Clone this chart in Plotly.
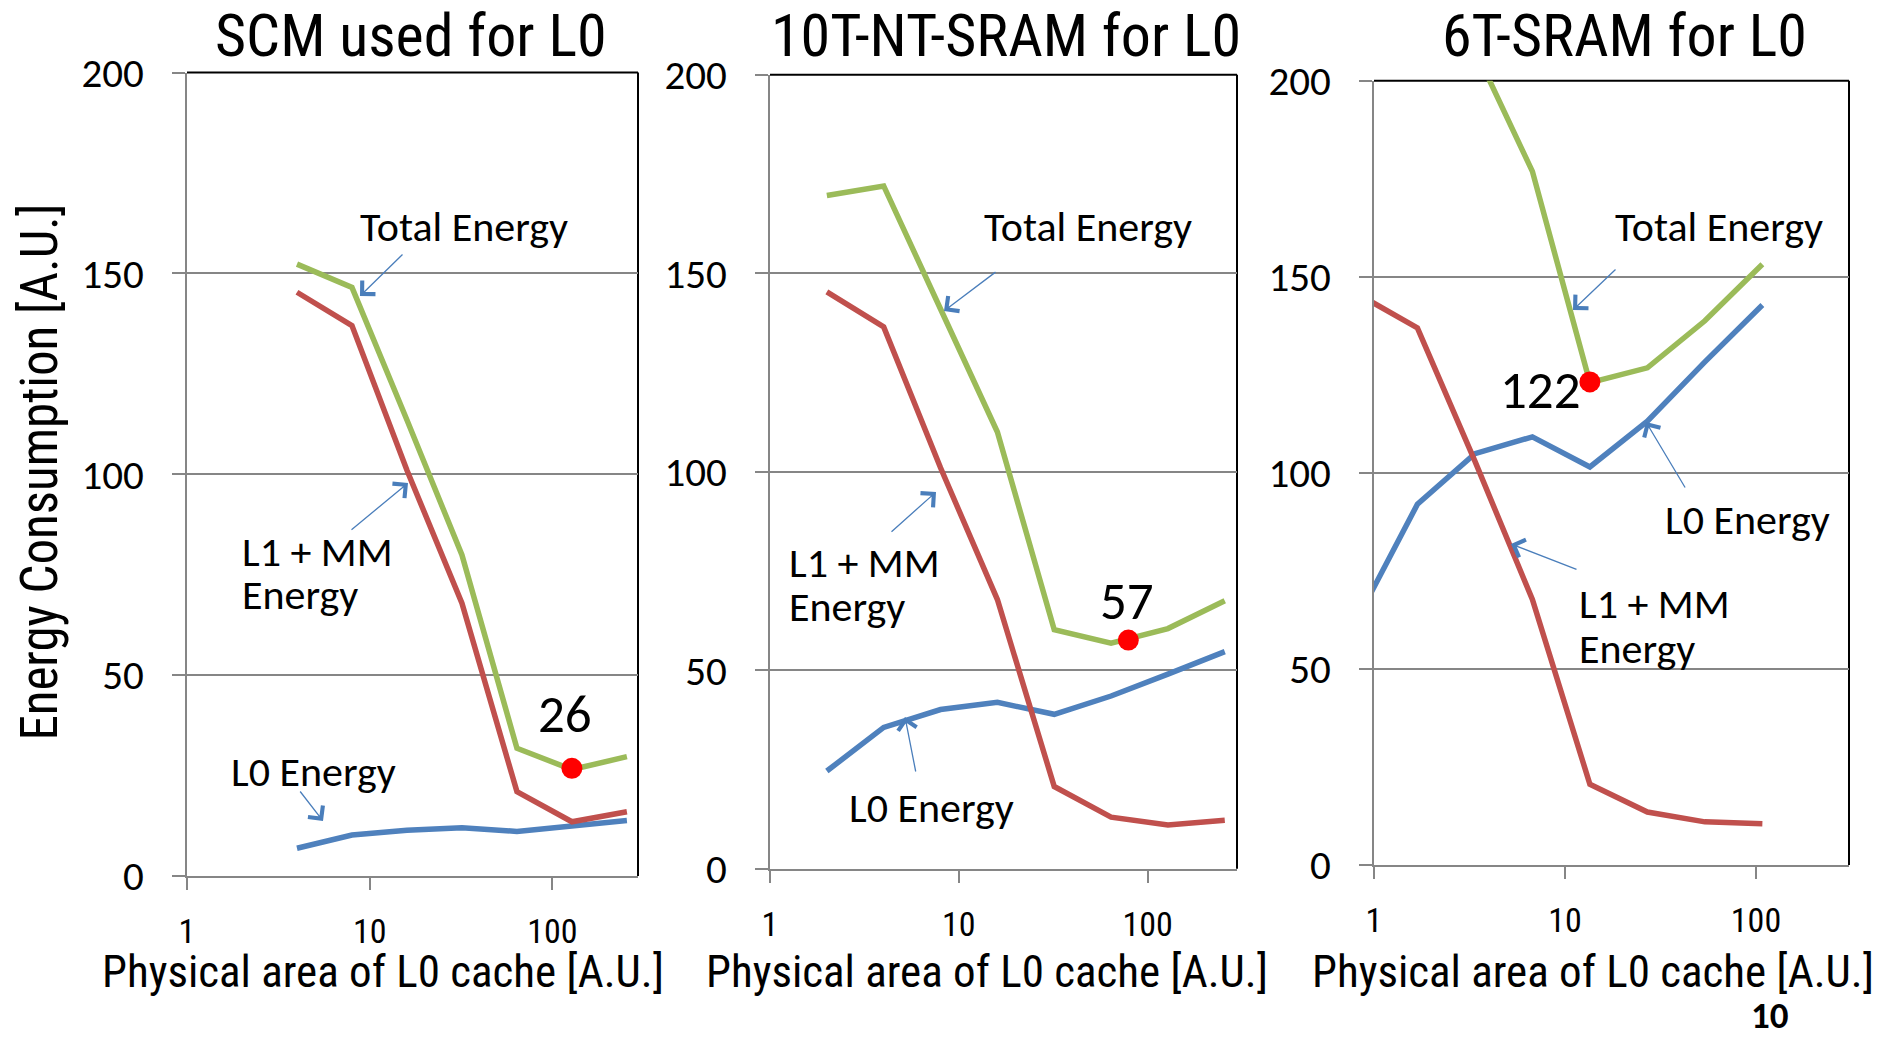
import plotly.graph_objects as go

# ---------------- data ----------------
panel_titles = ["SCM used for L0", "10T-NT-SRAM for L0", "6T-SRAM for L0"]
x_tick_vals = [1, 10, 100]
x_tick_text = ["1", "10", "100"]
y_tick_vals = [0, 50, 100, 150, 200]
y_tick_text = ["0", "50", "100", "150", "200"]

scm_x = [4, 8, 16, 32, 64, 128, 256]
scm_l1mm = [145.3, 137.0, 101.0, 67.9, 21.0, 13.5, 16.0]
scm_l0 = [6.9, 10.2, 11.4, 12.0, 11.1, 12.6, 13.8]
scm_total = [152.3, 146.5, 113.5, 79.9, 31.8, 26.5, 29.7]
scm_min_x = [128]
scm_min_y = [26.8]
scm_min_label = "26"

nt_x = [2, 4, 8, 16, 32, 64, 128, 256]
nt_l1mm = [145.3, 136.5, 101.0, 67.8, 20.7, 13.0, 11.0, 12.2]
nt_l0 = [24.6, 35.6, 40.1, 41.9, 38.9, 43.5, 49.0, 54.7]
nt_total = [169.6, 172.0, 141.0, 110.0, 60.2, 56.8, 60.5, 67.5]
nt_min_x = [79]
nt_min_y = [57.6]
nt_min_label = "57"

sram_x = [0.84375, 1.6875, 3.375, 6.75, 13.5, 27, 54, 108]
sram_l1mm = [145.3, 137.0, 103.0, 67.7, 20.6, 13.5, 11.0, 10.5]
sram_l0 = [64.0, 92.0, 104.9, 109.2, 101.5, 113.2, 128.3, 142.8]
sram_total = [None, None, 208.0, 176.9, 123.0, 126.8, 138.8, 153.2]
sram_min_x = [13.5]
sram_min_y = [123.2]
sram_min_label = "122"

# ---------------- styling ----------------
W, H = 1892, 1039
GREEN, RED, BLUE = "#9BBB59", "#C0504D", "#4F81BD"
ARROW = "#4A7EBB"
GRID = "#868686"
NARROW = "Liberation Sans Narrow, Arial Narrow, Roboto Condensed, sans-serif"
CAL = "Carlito, Calibri, Lato, sans-serif"

# plot boxes in pixels: left, right, top, bottom, xmax(log)
boxes = [
    (187, 638, 72.5, 876, 2.469),
    (770, 1237, 74.8, 868.7, 2.473),
    (1374, 1849, 80.8, 865, 2.487),
]


def px(x):
    return x / W


def py(y):
    return 1 - y / H


fig = go.Figure()

series = [
    (scm_x, scm_l1mm, scm_l0, scm_total, scm_min_x, scm_min_y),
    (nt_x, nt_l1mm, nt_l0, nt_total, nt_min_x, nt_min_y),
    (sram_x, sram_l1mm, sram_l0, sram_total, sram_min_x, sram_min_y),
]

for i, (xs, red, blue, green, mx, my) in enumerate(series):
    sfx = "" if i == 0 else str(i + 1)
    xa, ya = "x" + sfx, "y" + sfx
    for vals, col in ((blue, BLUE), (red, RED), (green, GREEN)):
        fig.add_trace(go.Scatter(x=xs, y=vals, xaxis=xa, yaxis=ya, mode="lines",
                                 line=dict(color=col, width=5.5), showlegend=False,
                                 connectgaps=False, hoverinfo="skip"))
    fig.add_trace(go.Scatter(x=mx, y=my, xaxis=xa, yaxis=ya, mode="markers",
                             marker=dict(color="#FF0000", size=21, line=dict(width=0)),
                             showlegend=False, cliponaxis=False, hoverinfo="skip"))
    l, r, t, b, xmax = boxes[i]
    xkey = "xaxis" + sfx
    ykey = "yaxis" + sfx
    fig.update_layout(**{
        xkey: dict(type="log", range=[0, xmax], domain=[px(l), px(r)], anchor=ya,
                   tickvals=x_tick_vals, ticktext=x_tick_text, ticks="outside",
                   ticklen=12, tickwidth=1.5, tickcolor=GRID, showgrid=False,
                   zeroline=False, showline=True, linecolor=GRID, linewidth=2,
                   automargin=False,
                   tickfont=dict(family=NARROW, size=34, color="black"),
                   ticklabelstandoff=12),
        ykey: dict(range=[0, 200], domain=[py(b), py(t)], anchor=xa,
                   tickvals=y_tick_vals, ticktext=y_tick_text, ticks="outside",
                   ticklen=13, tickwidth=1.5, tickcolor=GRID, showgrid=True,
                   gridcolor=GRID, gridwidth=1.5, zeroline=False, showline=True,
                   linecolor=GRID, linewidth=2, automargin=False,
                   tickfont=dict(family=CAL, size=41, color="black"),
                   ticklabelstandoff=20),
    })
    # black top/right border
    fig.add_shape(type="line", xref=xa + " domain", yref=ya + " domain",
                  x0=0, x1=1, y0=1, y1=1, line=dict(color="black", width=2), layer="below")
    fig.add_shape(type="line", xref=xa + " domain", yref=ya + " domain",
                  x0=1, x1=1, y0=0, y1=1, line=dict(color="black", width=2), layer="below")

annotations = []


def text(x, y, s, size, family=CAL, xanchor="center", bold=False, angle=0, yanchor="middle"):
    if bold:
        s = "<b>" + s + "</b>"
    annotations.append(dict(xref="paper", yref="paper", x=px(x), y=py(y), text=s,
                            showarrow=False, xanchor=xanchor, yanchor=yanchor,
                            textangle=angle, borderpad=0,
                            font=dict(family=family, size=size, color="black")))


def arrow(tail, head):
    annotations.append(dict(xref="paper", yref="paper", x=px(head[0]), y=py(head[1]),
                            ax=tail[0] - head[0], ay=tail[1] - head[1], axref="pixel",
                            ayref="pixel", text="", showarrow=True, arrowhead=4,
                            arrowsize=2.8, arrowwidth=1.3, arrowcolor=ARROW))


ANN = 42
# titles
text(411, 36, panel_titles[0], 60, NARROW)
text(1006, 36, panel_titles[1], 60, NARROW)
text(1624, 36, panel_titles[2], 60, NARROW)

# axis titles
text(38.6, 472, "Energy Consumption [A.U.]", 51, NARROW, angle=-90)
for cx in (382.5, 987, 1593):
    text(cx, 971, "Physical area of L0 cache [A.U.]", 45, NARROW)

# panel 1 labels
text(464, 227, "Total Energy", ANN)
arrow((404, 253), (360, 296))
text(241, 551, "L1 + MM", ANN, xanchor="left")
text(241, 594, "Energy", ANN, xanchor="left")
arrow((350, 531), (408, 483))
text(230, 771, "L0 Energy", ANN, xanchor="left")
arrow((299, 790), (323, 821))
text(565, 714, scm_min_label, 53)

# panel 2 labels
text(1088, 227, "Total Energy", ANN)
arrow((997, 271), (944, 311))
text(788, 562, "L1 + MM", ANN, xanchor="left")
text(788, 606, "Energy", ANN, xanchor="left")
arrow((890, 533), (936, 492))
text(848, 807, "L0 Energy", ANN, xanchor="left")
arrow((916, 773), (905, 717))
text(1127, 601, nt_min_label, 53)

# panel 3 labels
text(1719, 227, "Total Energy", ANN)
arrow((1617, 268), (1573, 310))
text(1540, 390, sram_min_label, 53)
text(1664, 519, "L0 Energy", ANN, xanchor="left")
arrow((1686, 489), (1646, 422))
text(1578, 603, "L1 + MM", ANN, xanchor="left")
text(1578, 648, "Energy", ANN, xanchor="left")
arrow((1578, 570), (1511, 544))

# page number
text(1770, 1039, "10", 37, bold=True, yanchor="bottom")

fig.update_layout(template="none", width=W, height=H,
                  margin=dict(l=0, r=0, t=0, b=0, autoexpand=False),
                  paper_bgcolor="white", plot_bgcolor="white",
                  annotations=annotations, showlegend=False)

fig.write_html("out.html", config={"displayModeBar": False},
               post_script="document.body.style.margin='0';document.body.style.overflow='hidden';")
